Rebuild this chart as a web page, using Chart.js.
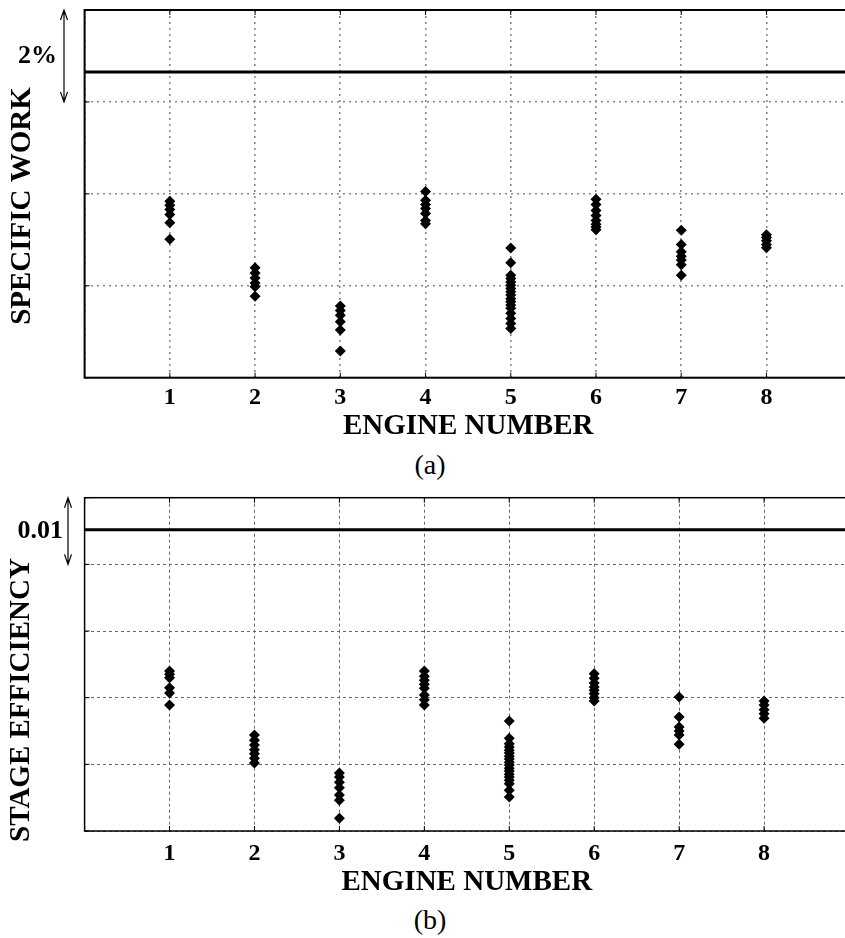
<!DOCTYPE html>
<html>
<head>
<meta charset="utf-8">
<script src="https://cdn.jsdelivr.net/npm/chart.js@4.4.1/dist/chart.umd.min.js"></script>
<style>
  html, body { margin: 0; padding: 0; background: #fff; overflow: hidden; }
  #wrap { position: relative; width: 845px; height: 938px; overflow: hidden; }
  canvas { position: absolute; left: 0; }
  #chartA { top: 0; }
  #chartB { top: 480px; }
  .cap { position: absolute; left: 380px; width: 100px; text-align: center; font: 28px "Liberation Serif", serif; color: #000; line-height: 1; }
</style>
</head>
<body>
<div id="wrap">
  <canvas id="chartA" width="860" height="445"></canvas>
  <div class="cap" style="top:451px">(a)</div>
  <canvas id="chartB" width="860" height="420"></canvas>
  <div class="cap" style="top:906px">(b)</div>
</div>
<script>
// engine numbers on the x axis
const engines = [1, 2, 3, 4, 5, 6, 7, 8];

// (a) specific work, in % (one grid step = 2%)
const specificWork = [
  [3.84, 3.75, 3.66, 3.55, 3.37, 3.01],
  [2.39, 2.28, 2.17, 2.06, 1.98, 1.77],
  [1.56, 1.46, 1.36, 1.22, 1.04, 0.58],
  [4.05, 3.86, 3.77, 3.68, 3.57, 3.42, 3.35],
  [2.82, 2.50, 2.23, 2.16, 2.08, 2.01, 1.94, 1.87, 1.80, 1.72, 1.65, 1.58, 1.51, 1.40, 1.29, 1.18, 1.07],
  [3.88, 3.77, 3.64, 3.53, 3.42, 3.34, 3.28, 3.22],
  [3.21, 2.90, 2.74, 2.64, 2.56, 2.46, 2.23],
  [3.11, 3.05, 2.98, 2.90, 2.83]
];
const workRef = 6.65;

// (b) stage efficiency (one grid step = 0.01)
const stageEff = [
  [0.0240, 0.0235, 0.0230, 0.0215, 0.0207, 0.0189],
  [0.0144, 0.0136, 0.0129, 0.0122, 0.0116, 0.0109, 0.0102],
  [0.0087, 0.0081, 0.0073, 0.0065, 0.0054, 0.0046, 0.0019],
  [0.0240, 0.0232, 0.0226, 0.0220, 0.0214, 0.0204, 0.0197, 0.0189],
  [0.0165, 0.0139, 0.0131, 0.0126, 0.0121, 0.0117, 0.0112, 0.0108, 0.0103, 0.0099, 0.0094, 0.0090, 0.0085, 0.0081, 0.0076, 0.0071, 0.0061, 0.0051],
  [0.0236, 0.0229, 0.0222, 0.0216, 0.0211, 0.0206, 0.0200, 0.0195],
  [0.0201, 0.0171, 0.0156, 0.0150, 0.0144, 0.0130],
  [0.0195, 0.0189, 0.0182, 0.0176, 0.0169]
];
const effRef = 0.0452;

const serif = '"Liberation Serif", "Times New Roman", serif';

// frame, inward ticks, span arrow and rotated y title
const decoPlugin = {
  id: 'deco',
  afterDraw(chart, args, opts) {
    const ctx = chart.ctx;
    const a = chart.chartArea;
    const xs = chart.scales.x, ys = chart.scales.y;
    ctx.save();
    ctx.strokeStyle = '#000';

    // inward tick marks
    ctx.lineWidth = 1;
    ctx.beginPath();
    xs.ticks.forEach((t, i) => {
      const px = xs.getPixelForTick(i);
      ctx.moveTo(px, a.bottom); ctx.lineTo(px, a.bottom - 5);
      ctx.moveTo(px, a.top); ctx.lineTo(px, a.top + 5);
    });
    ys.ticks.forEach((t, i) => {
      const py = ys.getPixelForTick(i);
      ctx.moveTo(a.left, py); ctx.lineTo(a.left + 5, py);
    });
    ctx.stroke();

    // box
    ctx.lineWidth = opts.frameWidth;
    ctx.strokeRect(a.left, a.top, a.right - a.left, a.bottom - a.top);

    // span arrow: one grid step below the top
    const yTop = ys.getPixelForValue(ys.max);
    const yBot = ys.getPixelForValue(ys.max - opts.step);
    const ax = opts.arrowX;
    ctx.lineWidth = 1.2;
    ctx.beginPath();
    ctx.moveTo(ax, yTop); ctx.lineTo(ax, yBot);
    ctx.moveTo(ax - 3.5, yTop + 10); ctx.lineTo(ax, yTop); ctx.lineTo(ax + 3.5, yTop + 10);
    ctx.moveTo(ax - 3.5, yBot - 10); ctx.lineTo(ax, yBot); ctx.lineTo(ax + 3.5, yBot - 10);
    ctx.stroke();

    ctx.fillStyle = '#000';
    ctx.font = 'bold 26px ' + serif;
    ctx.textAlign = 'right';
    ctx.textBaseline = 'middle';
    ctx.fillText(opts.spanLabel, opts.labelRight, (yTop + yBot) / 2);

    // y title
    ctx.font = 'bold 29px ' + serif;
    ctx.textAlign = 'center';
    ctx.translate(opts.titleX, opts.titleY);
    ctx.rotate(-Math.PI / 2);
    ctx.fillText(opts.title, 0, 0);
    ctx.restore();
  }
};

function makeChart(id, values, refValue, yMax, yStep, cfg) {
  const points = values.flatMap((vals, i) => vals.map(v => ({ x: engines[i], y: v })));
  const grid = { color: cfg.gridColor, lineWidth: cfg.gridWidth, drawTicks: false };
  return new Chart(document.getElementById(id), {
    data: {
      datasets: [
        {
          type: 'line',
          data: [{ x: 0, y: refValue }, { x: 9, y: refValue }],
          borderColor: '#000',
          borderWidth: 3,
          pointRadius: 0
        },
        {
          type: 'scatter',
          data: points,
          pointStyle: 'rectRot',
          pointRadius: 5.5,
          backgroundColor: '#000',
          borderWidth: 0
        }
      ]
    },
    options: {
      responsive: false,
      animation: false,
      layout: { padding: { top: cfg.padTop, right: 7, left: 0, bottom: 0 } },
      plugins: {
        legend: { display: false },
        tooltip: { enabled: false },
        deco: cfg.deco
      },
      scales: {
        x: {
          type: 'linear',
          min: 0,
          max: 9,
          afterFit: s => { s.height = cfg.xHeight; },
          ticks: {
            stepSize: 1,
            padding: cfg.tickPad,
            color: '#000',
            font: { family: serif, size: 24, weight: 'bold', lineHeight: 1 },
            callback: v => engines.includes(v) ? String(v) : ''
          },
          grid: grid,
          border: { display: false, dash: cfg.dash },
          title: {
            display: true,
            text: 'ENGINE NUMBER',
            color: '#000',
            padding: { top: 0, bottom: cfg.titlePad },
            font: { family: serif, size: 29, weight: 'bold', lineHeight: 1 }
          }
        },
        y: {
          type: 'linear',
          min: 0,
          max: yMax,
          afterFit: s => { s.width = 84.6; },
          ticks: { display: false, stepSize: yStep },
          grid: grid,
          border: { display: false, dash: cfg.dash }
        }
      }
    },
    plugins: [decoPlugin]
  });
}

makeChart('chartA', specificWork, workRef, 8, 2, {
  padTop: 10, xHeight: 67.3, tickPad: 8.3, titlePad: 3.5, dash: [2, 4],
  gridColor: '#888', gridWidth: 1.6,
  deco: { frameWidth: 2, step: 2, arrowX: 64, spanLabel: '2%', labelRight: 57,
          title: 'SPECIFIC WORK', titleX: 23, titleY: 206 }
});

makeChart('chartB', stageEff, effRef, 0.05, 0.01, {
  padTop: 17.7, xHeight: 69, tickPad: 11, titlePad: 2.5, dash: [3, 3],
  gridColor: '#666', gridWidth: 1,
  deco: { frameWidth: 1.5, step: 0.01, arrowX: 68, spanLabel: '0.01', labelRight: 63,
          title: 'STAGE EFFICIENCY', titleX: 22, titleY: 220 }
});
</script>
</body>
</html>
